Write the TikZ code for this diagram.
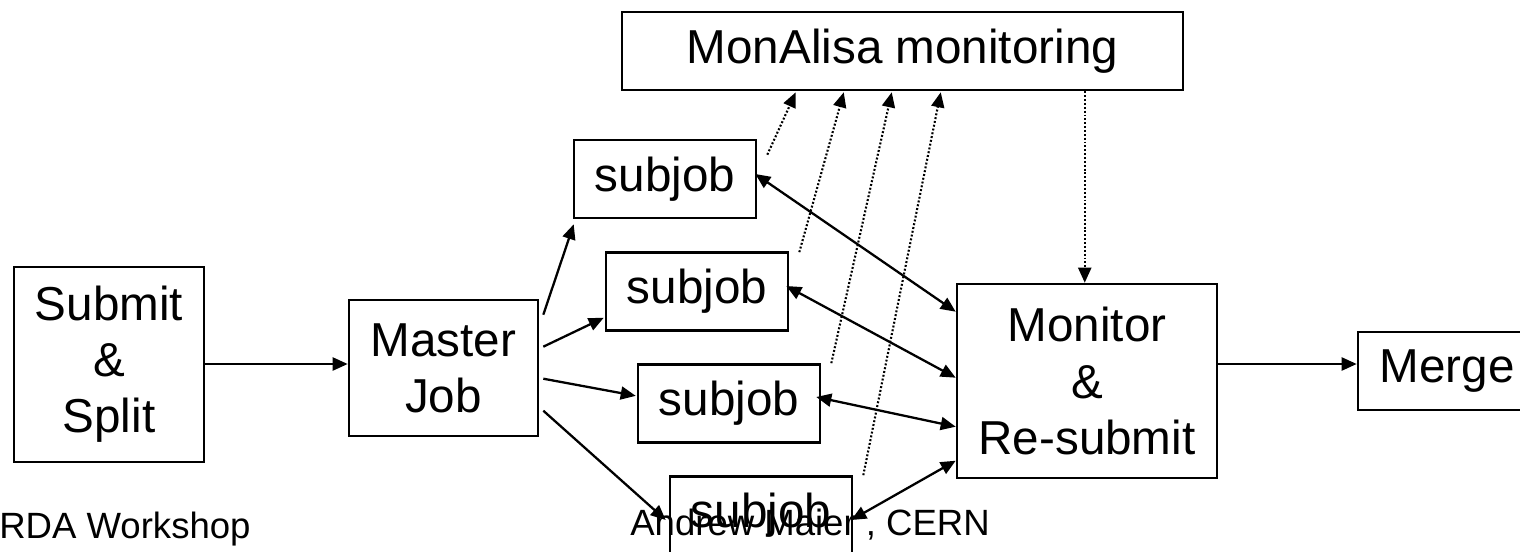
\documentclass[tikz,border=0pt]{standalone}
\usepackage{fontspec}
\setmainfont{Liberation Sans}
\usetikzlibrary{arrows.meta,positioning,calc}

\begin{document}
\begin{tikzpicture}[
  x=0.02cm, y=-0.02cm,
  box/.style={draw,line width=1.5pt,align=center,inner sep=0pt,font=\fontsize{27.1}{31.9}\selectfont},
  job/.style={box,minimum width=3.64cm,minimum height=1.56cm},
  arr/.style={-{Triangle[length=0.3cm,width=0.26cm]},line width=1.3pt},
  both/.style={{Triangle[length=0.3cm,width=0.26cm]}-{Triangle[length=0.3cm,width=0.26cm]},line width=1.3pt},
  watch/.style={-{Triangle[length=0.3cm,width=0.26cm]},line width=1.2pt,dash pattern=on 1.1pt off 1.1pt},
  foot/.style={inner sep=0pt,anchor=base west,font=\fontsize{20.8}{24}\selectfont}
]
  \useasboundingbox (0,0) rectangle (1520,551);
  \clip (0,0) rectangle (1520,551);
  \node[box,minimum width=3.8cm,minimum height=3.9cm] (submit) at (109,364.5) {Submit\\\&\\Split};
  \node[box,minimum width=3.78cm,minimum height=2.72cm] (master) at (443.5,368) {Master\\Job};
  \node[job] (sub1) at (665,179) {subjob};
  \node[job] (sub2) at ($(sub1)+(32,112.5)$) {subjob};
  \node[job] (sub3) at ($(sub2)+(32,112)$) {subjob};
  \node[job] (sub4) at ($(sub3)+(32,112)$) {subjob};
  \node[box,minimum width=11.22cm,minimum height=1.56cm] (monalisa) at (902.5,51) {MonAlisa monitoring};
  \node[box,minimum width=5.2cm,minimum height=3.88cm] (monitor) at (1087,381) {Monitor\\\&\\Re-submit};
  \node[box,minimum width=3.56cm,minimum height=1.56cm] (merge) at (1447,371) {Merge};
  \node[foot] (venue) at (-1,538) {RDA Workshop};
  \node[foot] (speaker) at (630,535) {Andrew Maier , CERN};
  \coordinate (mergein) at ($(merge.west)+(0,-7)$);
  \coordinate (tap) at ($(monalisa.south west)+(464,0)$);
  \draw[arr] (submit.east |- 0,364) -- (master.west |- 0,364);
  \draw[arr] ($(master.north east)+(4,16)$) -- ($(sub1.south west)+(1,5)$);
  \draw[arr] ($(master.north east)+(4,48)$) -- ($(sub2.south west)+(-1,-14)$);
  \draw[arr] ($(master.north east)+(4,80)$) -- ($(sub3.south west)+(-1,-48)$);
  \draw[arr] ($(master.north east)+(4,112)$) -- ($(sub4.west)+(-3,4.5)$);
  \draw[both] ($(sub1.east)+(-2,-5)$) -- ($(monitor.north west)+(0,29)$);
  \draw[both] ($(sub2.east)+(-3,-5.5)$) -- ($(monitor.north west)+(0,95)$);
  \draw[both] ($(sub3.east)+(-5,-6.5)$) -- ($(monitor.north west)+(0,144)$);
  \draw[both] ($(sub4.east)+(-2,4.5)$) -- ($(monitor.north west)+(0,178)$);
  \foreach \s/\dy/\dx in {sub1/16/175, sub2/1/223, sub3/0/271, sub4/0/320}
    \draw[watch] ($(\s.north east)+(10,\dy)$) -- ($(monalisa.south west)+(\dx,1)$);
  \draw[watch] (tap) -- (tap |- monitor.north);
  \draw[arr] (monitor.east |- mergein) -- (mergein);
\end{tikzpicture}
\end{document}
